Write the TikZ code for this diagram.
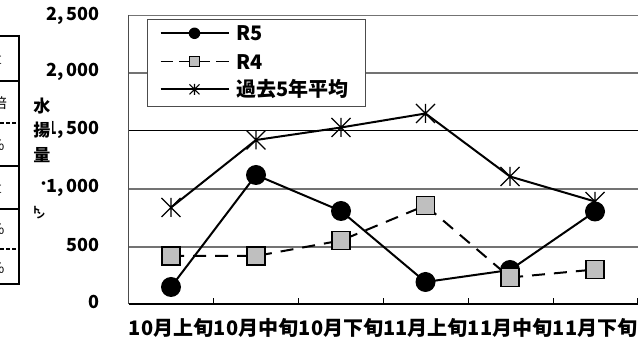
\documentclass[tikz,border=0pt]{standalone}
\usepackage{fontspec}
\setmainfont{Noto Sans CJK JP}
\begin{document}
\begin{tikzpicture}[x=1pt,y=-1pt,
  gridl/.style={draw=black!55, line width=1.3pt},
  ylab/.style={anchor=east, font=\bfseries\fontsize{18}{20}\selectfont, inner sep=0pt},
  xlab/.style={font=\bfseries\fontsize{20}{22}\selectfont, inner sep=0pt},
  ytitle/.style={font=\bfseries\fontsize{17}{18}\selectfont, inner sep=1pt, fill=white},
  legtext/.style={anchor=west, font=\bfseries\fontsize{20}{22}\selectfont, inner sep=0pt},
  tabline/.style={line width=2.4pt},
  tabtext/.style={anchor=east, font=\fontsize{14}{16}\selectfont, inner sep=0pt},
  serline/.style={line width=2pt},
  dashline/.style={line width=2pt, dash pattern=on 13pt off 9pt},
  dotm/.style={circle, fill=black, minimum size=20pt, inner sep=0pt},
  sqm/.style={draw=black, fill=black!25, line width=1.3pt, minimum size=18pt, inner sep=0pt},
  ldotm/.style={circle, fill=black, minimum size=11.5pt, inner sep=0pt},
  lsqm/.style={draw=black, fill=black!25, line width=1pt, minimum size=10pt, inner sep=0pt},
  legline/.style={line width=1.6pt}
]
\useasboundingbox (0,0) rectangle (638,344);
\fill[white] (0,0) rectangle (638,344);

% --- table fragment at left ---
\draw[tabline] (19,35) -- (19,285);
\draw[tabline] (0,36) -- (19,36);
\draw[tabline] (0,81) -- (19,81);
\draw[tabline, dash pattern=on 4pt off 2pt] (0,123) -- (19,123);
\draw[tabline] (0,166) -- (19,166);
\draw[line width=2pt] (0,209) -- (19,209);
\draw[tabline, dash pattern=on 4pt off 2pt] (0,249) -- (19,249);
\draw[tabline] (0,284) -- (19,284);
\node[tabtext] (t1) at (2,58) {量};
\node[tabtext] (t2) at (7,103) {倍};
\node[tabtext] (t3) at (5,145) {％};
\node[tabtext] (t4) at (2,187) {量};
\node[tabtext] (t5) at (5,229) {％};
\node[tabtext] (t6) at (5,268) {％};

% --- grid ---
\draw[gridl] (128.5,15.5) -- (638,15.5);
\draw[gridl] (128.5,73) -- (638,73);
\draw[black, line width=1pt] (128.5,131) -- (638,131);
\draw[gridl] (128.5,189) -- (638,189);
\draw[gridl] (128.5,247) -- (638,247);
% axes
\draw[black!70, line width=1pt] (128.5,15) -- (128.5,304);
\draw[black, line width=1.3pt] (128.5,304) -- (638,304);
\foreach \x in {213.4,298.3,383.2,468.1,553,637.5}
  \draw[black, line width=1pt] (\x,304) -- (\x,298);

% --- y labels ---
\node[ylab] (y0) at (100,302) {0};
\node[ylab] (y1) at (100,245) {500};
\node[ylab] (y2) at (100,188) {1,\,000};
\node[ylab] (y3) at (100,130) {1,\,500};
\node[ylab] (y4) at (100,72) {2,\,000};
\node[ylab] (y5) at (100,16) {2,\,500};

% --- y title ---
\node[ytitle] (ta) at (42,106) {水};
\node[ytitle] (tb) at (42,130) {揚};
\node[ytitle] (tc) at (42,155) {量};
\node[font=\bfseries\fontsize{13}{14}\selectfont, inner sep=0pt] (td) at (43.5,185) {・};
\node[font=\bfseries\fontsize{9}{10}\selectfont, inner sep=0pt] (te) at (36,210) {ト};
\node[font=\bfseries\fontsize{9}{10}\selectfont, inner sep=0pt] (tf) at (40.5,215.5) {ン};

% --- x labels ---
\node[xlab] (x1) at (171,328) {10月上旬};
\node[xlab] (x2) at (256,328) {10月中旬};
\node[xlab] (x3) at (341,328) {10月下旬};
\node[xlab] (x4) at (425.5,328) {11月上旬};
\node[xlab] (x5) at (510,328) {11月中旬};
\node[xlab] (x6) at (595,328) {11月下旬};

% --- past 5-year average ---
\coordinate (a1) at (171,207.5);
\coordinate (a2) at (256,140);
\coordinate (a3) at (341,127.5);
\coordinate (a4) at (425.5,113.5);
\coordinate (a5) at (510,176.5);
\coordinate (a6) at (595,201.5);
\draw[serline] (a1) -- (a2) -- (a3) -- (a4) -- (a5) -- (a6);
\foreach \p in {a1,a2,a3,a4,a5,a6}{
  \draw[line width=1.2pt] ([shift={(-9.5,-9.5)}]\p) -- ([shift={(9.5,9.5)}]\p)
    ([shift={(-9.5,9.5)}]\p) -- ([shift={(9.5,-9.5)}]\p)
    ([shift={(0,-9.5)}]\p) -- ([shift={(0,9.5)}]\p);
}

% --- R5 ---
\node[dotm] (r1) at (171,287) {};
\node[dotm] (r2) at (256,175) {};
\node[dotm] (r3) at (341,211) {};
\node[dotm] (r4) at (425.5,282) {};
\node[dotm] (r5) at (510,270) {};
\node[dotm] (r6) at (595,211.5) {};
\draw[serline] (r1.center) -- (r2.center) -- (r3.center) -- (r4.center) -- (r5.center) -- (r6.center);

% --- R4 ---
\draw[dashline] (171,256) -- (256,256) -- (341,240.5) -- (425.5,205.5) -- (510,277.5) -- (595,269.5);
\node[sqm] (q1) at (171,256) {};
\node[sqm] (q2) at (256,256) {};
\node[sqm] (q3) at (341,240.5) {};
\node[sqm] (q4) at (425.5,205.5) {};
\node[sqm] (q5) at (510,277.5) {};
\node[sqm] (q6) at (595,269.5) {};

% --- legend ---
\node[draw=black!70, line width=1pt, fill=white, minimum width=218pt, minimum height=86.5pt, inner sep=0pt, anchor=north west] (leg) at (146.8,19.5) {};
\coordinate (l1a) at (160.7,33.3); \coordinate (l1b) at (229.3,33.3);
\coordinate (l2a) at (160.7,61.7); \coordinate (l2b) at (229.3,61.7);
\coordinate (l3a) at (160.7,89.3); \coordinate (l3b) at (229.3,89.3);
\draw[legline] (l1a) -- (l1b);
\node[ldotm] (lm1) at (194.5,33.3) {};
\draw[legline, dash pattern=on 12.5pt off 6pt] (l2a) -- (l2b);
\node[lsqm] (lm2) at (194.5,61.7) {};
\draw[legline] (l3a) -- (l3b);
\coordinate (lm3) at (194.5,89.3);
\draw[line width=1.1pt] ([shift={(-5,-5)}]lm3) -- ([shift={(5,5)}]lm3)
  ([shift={(-5,5)}]lm3) -- ([shift={(5,-5)}]lm3)
  ([shift={(0,-5.5)}]lm3) -- ([shift={(0,5.5)}]lm3);
\node[legtext] (lt1) at (236.5,33.3) {R5};
\node[legtext] (lt2) at (236.5,61.7) {R4};
\node[legtext] (lt3) at (236.5,89.3) {過去5年平均};
\end{tikzpicture}
\end{document}
